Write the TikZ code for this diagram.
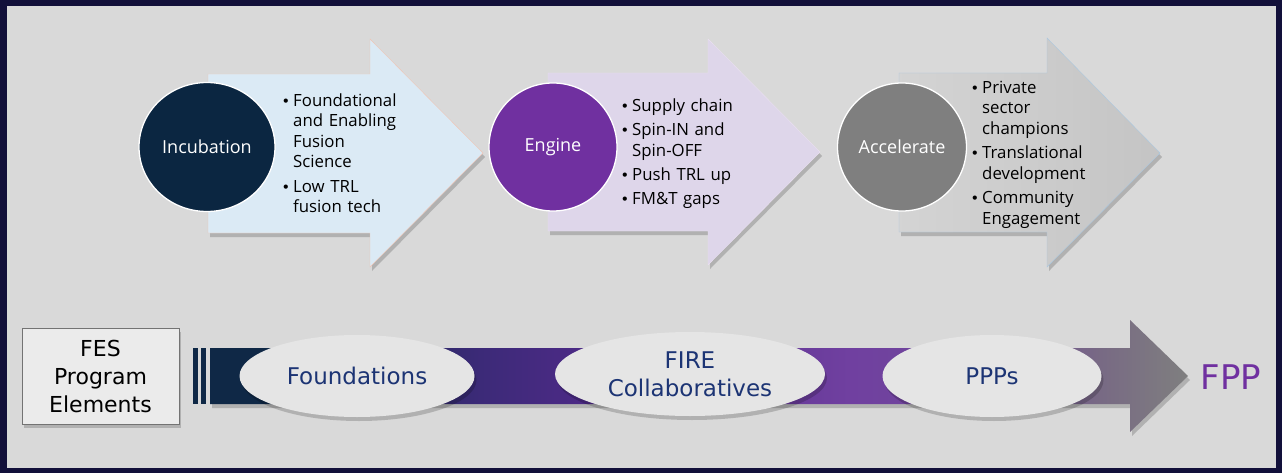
\documentclass[tikz,border=0pt]{standalone}
\usepackage{fontspec}
\setmainfont{Open Sans}
\newfontfamily\verdfont{DejaVu Sans}
\usetikzlibrary{shapes.geometric,shadows}

\definecolor{framecol}{HTML}{12103A}
\definecolor{bgcol}{HTML}{D9D9D9}
\definecolor{incub}{HTML}{0B2641}
\definecolor{engin}{HTML}{7030A0}
\definecolor{accel}{HTML}{7F7F7F}
\definecolor{navytxt}{HTML}{1C3474}
\definecolor{pipeA}{HTML}{0F2846}
\definecolor{pipeB}{HTML}{3C2A78}
\definecolor{pipeC}{HTML}{4F2A88}
\definecolor{pipeD}{HTML}{7040A0}
\definecolor{pipeE}{HTML}{704A98}
\definecolor{pipeF}{HTML}{786A84}
\definecolor{pipeG}{HTML}{7F7F7F}

\pgfdeclarehorizontalshading{pipeline}{100bp}{color(0bp)=(pipeA); color(25bp)=(pipeA);
  color(29.6bp)=(pipeA); color(38.8bp)=(pipeB); color(45bp)=(pipeC); color(57.7bp)=(pipeD);
  color(65.4bp)=(pipeE); color(70.5bp)=(pipeF); color(75bp)=(pipeG); color(100bp)=(pipeG)}

% bullet line with hanging indent
\newcommand\bul[1]{\par\hangindent=10pt\hangafter=1\noindent
  \makebox[10pt][l]{\hspace{-1.5pt}\verdfont\fontsize{14.5}{14.5}\selectfont\textbullet}#1\par}

\begin{document}
\begin{tikzpicture}[x=1pt,y=-1pt,
  softshadow/.style={drop shadow={shadow xshift=2pt,shadow yshift=-4pt,opacity=0.18,fill=black}},
  stage/.style={ellipse,draw=white,line width=1.3pt,text=white,inner sep=0pt,
    font=\fontsize{18}{20}\selectfont},
  points/.style={anchor=north west,inner sep=0pt,text width=130pt,align=left,
    font=\fontsize{16.8}{20.5}\selectfont\setlength\parskip{3.8pt}},
  bubble/.style={ellipse,fill=black!10,inner sep=0pt,softshadow,text=navytxt,align=center,
    font=\verdfont\fontsize{23}{28}\selectfont}]
\useasboundingbox (0,0) rectangle (1282,473);
\fill[framecol] (0,0) rectangle (1282,473);
\fill[bgcol] (7,6) rectangle (1276,468);

% stage arrows
\filldraw[fill={rgb,255:red,219;green,234;blue,245},draw={rgb,255:red,240;green,196;blue,180},softshadow]
  (208,74) -- (370,74) -- (370,39) -- (483,153) -- (370,267) -- (370,233) -- (208,233) -- cycle;
\filldraw[fill={rgb,255:red,222;green,214;blue,234},draw=white!85!engin,softshadow]
  (548,73) -- (708,73) -- (708,39) -- (820,152) -- (708,265) -- (708,231) -- (548,231) -- cycle;
\shadedraw[left color=black!17,right color=black!23,draw={rgb,255:red,170;green,200;blue,225},softshadow]
  (899,73) -- (1047,73) -- (1047,38) -- (1160,153) -- (1047,267) -- (1047,232) -- (899,232) -- cycle;

% stage circles
\node[stage,fill=incub,minimum width=136pt,minimum height=129pt] (incubation) at (207,147) {Incubation};
\node[stage,fill=engin,minimum width=128pt,minimum height=128pt] (engine) at (553,147) {Engine};
\node[stage,fill=accel,minimum width=129pt,minimum height=128pt] (accelerate) at (902,147) {Accelerate};

% bullet lists
\node[points] (incubpts) at (283,82) {\bul{Foundational\newline and Enabling\newline Fusion\newline Science}\bul{Low TRL\newline fusion tech}};
\node[points] (enginepts) at (622,87) {\bul{Supply chain}\bul{Spin-IN and\newline Spin-OFF}\bul{Push TRL up}\bul{FM\&T gaps}};
\node[points] (accelpts) at (972,69) {\bul{Private\newline sector\newline champions}\bul{Translational\newline development}\bul{Community\newline Engagement}};

% program pipeline
\fill[pipeA] (193,348) rectangle (198,404);
\fill[pipeA] (201,348) rectangle (206,404);
\shade[shading=pipeline,softshadow]
  (210,348) -- (1130,348) -- (1130,320) -- (1188,376) -- (1130,432) -- (1130,404) -- (210,404) -- cycle;

\node[draw=black!55,line width=1pt,fill=black!8,minimum width=157pt,minimum height=96pt,
  align=center,softshadow,font=\verdfont\fontsize{22}{28}\selectfont] (fes) at (100.5,376) {FES\\Program\\Elements};

\node[bubble,minimum width=235pt,minimum height=82pt] (found) at (357,376) {Foundations};
\node[bubble,minimum width=270pt,minimum height=84pt] (fire) at (690,374) {FIRE\\Collaboratives};
\node[bubble,minimum width=219pt,minimum height=82pt] (ppps) at (992,376) {PPPs};

\node[text=engin,font=\verdfont\fontsize{34}{40}\selectfont] (fpp) at (1231,377) {FPP};
\end{tikzpicture}
\end{document}
